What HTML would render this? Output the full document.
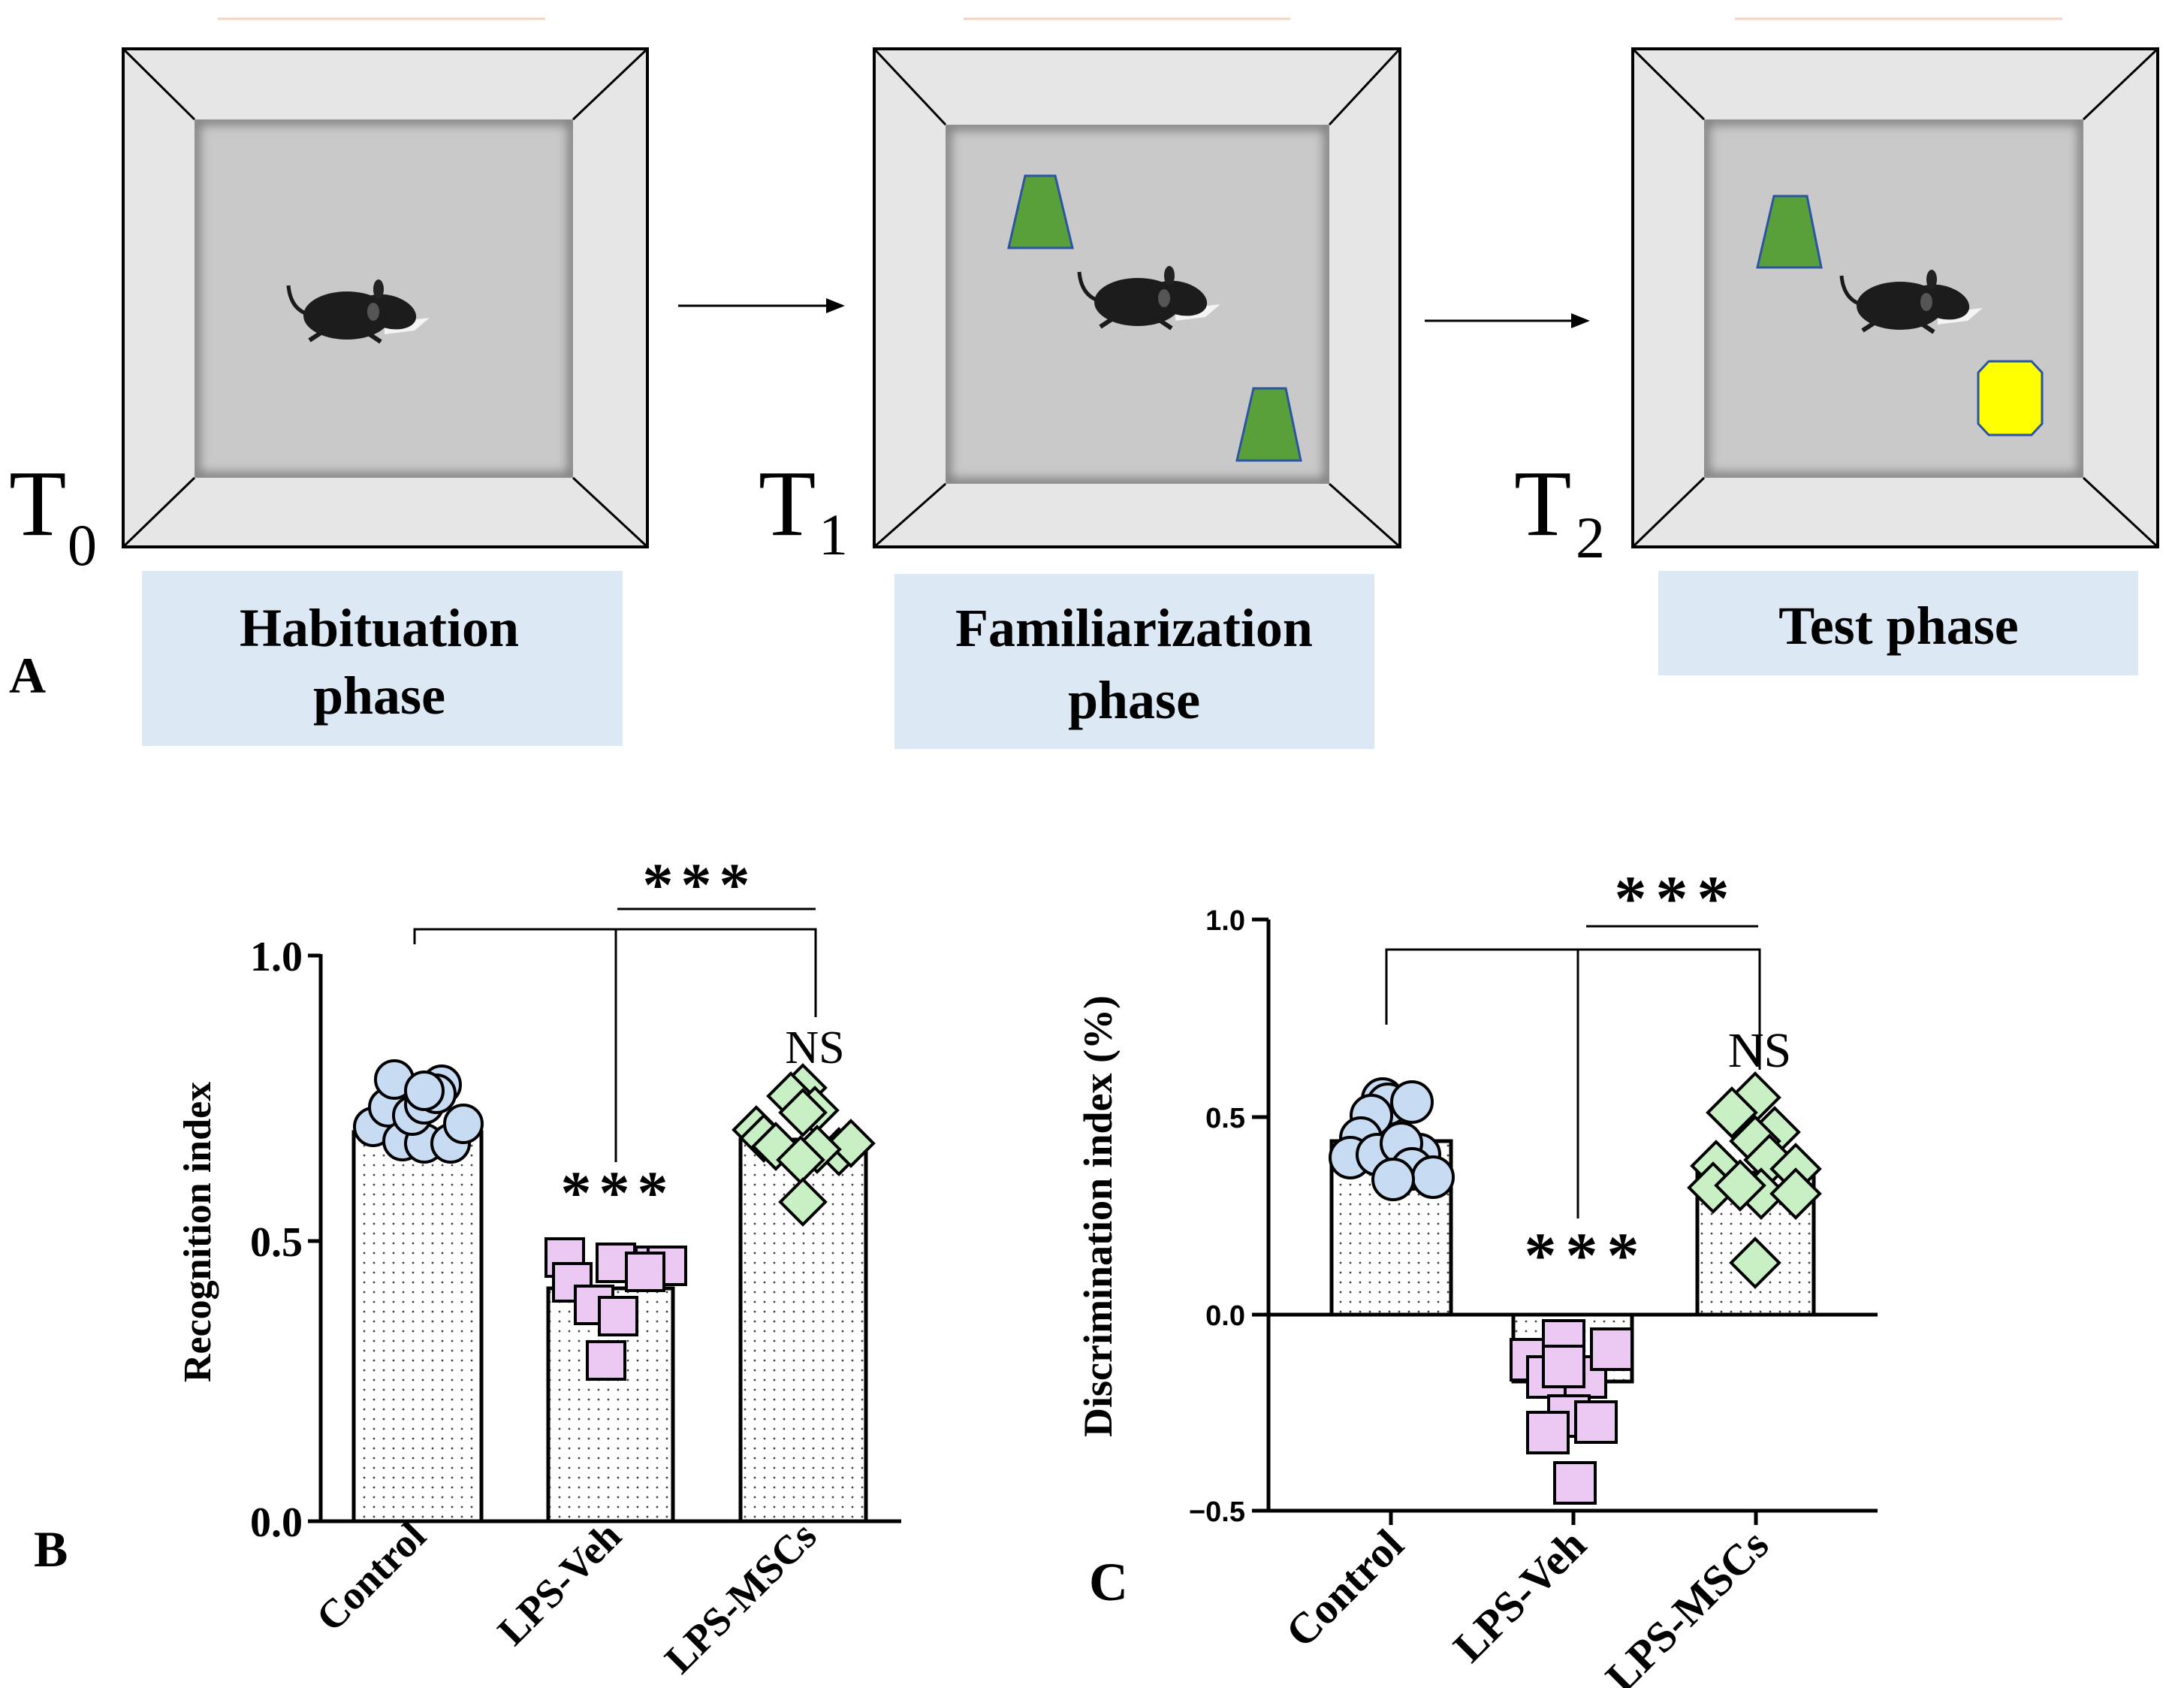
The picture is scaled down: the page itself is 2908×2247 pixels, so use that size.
<!DOCTYPE html>
<html><head><meta charset="utf-8"><style>
html,body{margin:0;padding:0;background:#fff;}
svg{display:block;}
</style></head><body>
<svg width="2908" height="2247" viewBox="0 0 2908 2247" xmlns="http://www.w3.org/2000/svg">
<defs>
<pattern id="dots" width="13" height="13" patternUnits="userSpaceOnUse">
<rect width="13" height="13" fill="#fff"/><circle cx="4" cy="4" r="1.4" fill="#444"/>
</pattern>
<filter id="blur" x="-5%" y="-5%" width="110%" height="110%"><feGaussianBlur stdDeviation="7"/></filter>
<clipPath id="c1"><rect x="259" y="159" width="504" height="477"/></clipPath>
<clipPath id="c2"><rect x="1259" y="166" width="511" height="478"/></clipPath>
<clipPath id="c3"><rect x="2269" y="159" width="505" height="477"/></clipPath>
<g id="mouse">
<path d="M-55,5 Q-85,0 -88,-35" stroke="#1a1a1a" stroke-width="5" fill="none"/>
<path d="M-40,25 L-60,38" stroke="#1a1a1a" stroke-width="6"/>
<path d="M20,30 L35,40" stroke="#1a1a1a" stroke-width="6"/>
<path d="M40,15 L100,8 L80,25 L40,30Z" fill="#f4f4f4"/>
<ellipse cx="-10" cy="5" rx="58" ry="32" fill="#1c1c1c"/>
<ellipse cx="45" cy="0" rx="38" ry="22" fill="#1c1c1c" transform="rotate(15 45 0)"/>
<ellipse cx="32" cy="-30" rx="7" ry="13" fill="#222"/>
<ellipse cx="25" cy="0" rx="8" ry="12" fill="#555"/>
</g>
</defs>

<line x1="290" y1="25" x2="726" y2="25" stroke="#f5d2c0" stroke-width="3"/>
<line x1="1283" y1="25" x2="1718" y2="25" stroke="#f5d2c0" stroke-width="3"/>
<line x1="2310" y1="25" x2="2746" y2="25" stroke="#f5d2c0" stroke-width="3"/>

<!-- Box 1 -->
<rect x="164" y="65" width="698" height="663" fill="#e7e6e7" stroke="#000" stroke-width="4"/>
<rect x="259" y="159" width="504" height="477" fill="#c9c9ca"/>
<rect x="259" y="159" width="504" height="477" fill="none" stroke="#7a7a7a" stroke-width="14" filter="url(#blur)" clip-path="url(#c1)"/>
<g stroke="#000" stroke-width="3"><line x1="164" y1="65" x2="259" y2="159"/><line x1="862" y1="65" x2="763" y2="159"/><line x1="164" y1="728" x2="259" y2="636"/><line x1="862" y1="728" x2="763" y2="636"/></g>
<use href="#mouse" transform="translate(472,415)"/>

<!-- Box 2 -->
<rect x="1164" y="65" width="700" height="663" fill="#e7e6e7" stroke="#000" stroke-width="4"/>
<rect x="1259" y="166" width="511" height="478" fill="#c9c9ca"/>
<rect x="1259" y="166" width="511" height="478" fill="none" stroke="#7a7a7a" stroke-width="14" filter="url(#blur)" clip-path="url(#c2)"/>
<g stroke="#000" stroke-width="3"><line x1="1164" y1="65" x2="1259" y2="166"/><line x1="1864" y1="65" x2="1770" y2="166"/><line x1="1164" y1="728" x2="1259" y2="644"/><line x1="1864" y1="728" x2="1770" y2="644"/></g>
<polygon points="1365,234 1405,234 1428,330 1343,330" fill="#5aa03a" stroke="#2a55a0" stroke-width="3"/>
<polygon points="1669,517 1712,517 1732,613 1647,613" fill="#5aa03a" stroke="#2a55a0" stroke-width="3"/>
<use href="#mouse" transform="translate(1525,397)"/>

<!-- Box 3 -->
<rect x="2174" y="65" width="699" height="663" fill="#e7e6e7" stroke="#000" stroke-width="4"/>
<rect x="2269" y="159" width="505" height="477" fill="#c9c9ca"/>
<rect x="2269" y="159" width="505" height="477" fill="none" stroke="#7a7a7a" stroke-width="14" filter="url(#blur)" clip-path="url(#c3)"/>
<g stroke="#000" stroke-width="3"><line x1="2174" y1="65" x2="2269" y2="159"/><line x1="2873" y1="65" x2="2774" y2="159"/><line x1="2174" y1="728" x2="2269" y2="636"/><line x1="2873" y1="728" x2="2774" y2="636"/></g>
<polygon points="2362,261 2406,261 2425,356 2340,356" fill="#5aa03a" stroke="#2a55a0" stroke-width="3"/>
<polygon points="2648,481 2705,481 2719,496 2719,564 2705,579 2648,579 2634,564 2634,496" fill="#ffff00" stroke="#2a55a0" stroke-width="3"/>
<use href="#mouse" transform="translate(2540,402)"/>

<line x1="903" y1="407" x2="1110" y2="407" stroke="#000" stroke-width="3"/>
<polygon points="1125,407 1100,397 1100,417" fill="#000"/>
<line x1="1897" y1="427" x2="2102" y2="427" stroke="#000" stroke-width="3"/>
<polygon points="2117,427 2092,417 2092,437" fill="#000"/>

<g font-family="Liberation Serif, serif" fill="#000">
<text x="12" y="712" font-size="125">T</text><text x="90" y="752" font-size="78">0</text>
<text x="1010" y="712" font-size="125">T</text><text x="1090" y="738" font-size="78">1</text>
<text x="2016" y="712" font-size="125">T</text><text x="2098" y="742" font-size="78">2</text>
<text x="12" y="922" font-size="68" font-weight="bold">A</text>
</g>

<rect x="189" y="760" width="640" height="233" fill="#dde8f5"/>
<rect x="1191" y="764" width="639" height="233" fill="#dde8f5"/>
<rect x="2208" y="760" width="639" height="139" fill="#dde8f5"/>
<g font-family="Liberation Serif, serif" font-size="72" text-anchor="middle" fill="#000" font-weight="bold">
<text x="505" y="860">Habituation</text><text x="505" y="950">phase</text>
<text x="1510" y="860">Familiarization</text><text x="1510" y="956">phase</text>
<text x="2528" y="857">Test phase</text>
</g>

<!-- Chart B -->
<g>
<rect x="471" y="1507" width="170" height="518" fill="url(#dots)" stroke="#000" stroke-width="5"/>
<rect x="730" y="1715" width="166" height="310" fill="url(#dots)" stroke="#000" stroke-width="5"/>
<rect x="986" y="1517" width="167" height="508" fill="url(#dots)" stroke="#000" stroke-width="5"/>
<line x1="427" y1="1270" x2="427" y2="2027" stroke="#000" stroke-width="5"/>
<line x1="425" y1="2025" x2="1200" y2="2025" stroke="#000" stroke-width="5"/>
<g stroke="#000" stroke-width="5"><line x1="410" y1="1272" x2="427" y2="1272"/><line x1="410" y1="1652" x2="427" y2="1652"/><line x1="410" y1="2025" x2="427" y2="2025"/></g>
<g font-family="Liberation Serif, serif" font-weight="bold" font-size="56" text-anchor="end">
<text x="403" y="1292">1.0</text><text x="403" y="1672">0.5</text><text x="403" y="2045">0.0</text>
</g>
<text transform="translate(280,1640) rotate(-90)" font-family="Liberation Serif, serif" font-weight="bold" font-size="52" text-anchor="middle">Recognition index</text>
<g stroke="#000" stroke-width="3" fill="none">
<polyline points="552,1257 552,1237 1086,1237 1086,1354"/>
<line x1="820" y1="1237" x2="820" y2="1547"/>
<line x1="822" y1="1210" x2="1086" y2="1210"/>
</g>
<g font-family="Liberation Serif, serif" font-size="82" text-anchor="middle" font-weight="bold">
<text x="932" y="1205" letter-spacing="10">***</text><text x="823" y="1615" letter-spacing="10">***</text>
</g>
<text x="1085" y="1415" font-family="Liberation Serif, serif" font-size="62" text-anchor="middle">NS</text>
<g fill="#c7dbf3" stroke="#000" stroke-width="4">
<circle cx="497" cy="1500" r="25"/><circle cx="517" cy="1474" r="25"/><circle cx="525" cy="1437" r="25"/><circle cx="536" cy="1519" r="25"/><circle cx="565" cy="1522" r="25"/><circle cx="549" cy="1485" r="25"/><circle cx="565" cy="1470" r="25"/><circle cx="588" cy="1444" r="25"/><circle cx="581" cy="1456" r="25"/><circle cx="600" cy="1522" r="25"/><circle cx="617" cy="1496" r="25"/><circle cx="565" cy="1452" r="25"/>
</g>
<g fill="#ecc9f3" stroke="#000" stroke-width="4">
<rect x="727" y="1649" width="50" height="50"/><rect x="737" y="1682" width="50" height="50"/><rect x="795" y="1656" width="50" height="50"/><rect x="847" y="1660" width="50" height="50"/><rect x="863" y="1660" width="50" height="50"/><rect x="834" y="1668" width="50" height="50"/><rect x="766" y="1712" width="50" height="50"/><rect x="798" y="1727" width="50" height="50"/><rect x="782" y="1786" width="50" height="50"/>
</g>
<g fill="#c9f0c4" stroke="#000" stroke-width="4">
<polygon points="1069,1418 1099,1448 1069,1478 1039,1448"/><polygon points="1053,1429 1083,1459 1053,1489 1023,1459"/><polygon points="1085,1448 1115,1478 1085,1508 1055,1478"/><polygon points="1069,1451 1099,1481 1069,1511 1039,1481"/><polygon points="1007,1474 1037,1504 1007,1534 977,1504"/><polygon points="1017,1485 1047,1515 1017,1545 987,1515"/><polygon points="1033,1496 1063,1526 1033,1556 1003,1526"/><polygon points="1117,1503 1147,1533 1117,1563 1087,1533"/><polygon points="1133,1492 1163,1522 1133,1552 1103,1522"/><polygon points="1088,1500 1118,1530 1088,1560 1058,1530"/><polygon points="1066,1514 1096,1544 1066,1574 1036,1544"/><polygon points="1069,1570 1099,1600 1069,1630 1039,1600"/>
</g>
<g font-family="Liberation Serif, serif" font-weight="bold" font-size="54" text-anchor="end">
<text transform="translate(570,2048) rotate(-45)">Control</text>
<text transform="translate(830,2048) rotate(-45)">LPS-Veh</text>
<text transform="translate(1090,2048) rotate(-45)">LPS-MSCs</text>
</g>
<text x="45" y="2085" font-family="Liberation Serif, serif" font-weight="bold" font-size="68">B</text>
</g>

<!-- Chart C -->
<g>
<rect x="1773" y="1519" width="159" height="231" fill="url(#dots)" stroke="#000" stroke-width="5"/>
<rect x="2015" y="1750" width="158" height="89" fill="url(#dots)" stroke="#000" stroke-width="5"/>
<rect x="2260" y="1561" width="155" height="189" fill="url(#dots)" stroke="#000" stroke-width="5"/>
<line x1="1689" y1="1224" x2="1689" y2="2013" stroke="#000" stroke-width="5"/>
<line x1="1687" y1="2011" x2="2500" y2="2011" stroke="#000" stroke-width="5"/>
<line x1="1687" y1="1750" x2="2500" y2="1750" stroke="#000" stroke-width="5"/>
<g stroke="#000" stroke-width="5">
<line x1="1667" y1="1224" x2="1689" y2="1224"/><line x1="1667" y1="1487" x2="1689" y2="1487"/><line x1="1667" y1="1750" x2="1689" y2="1750"/><line x1="1667" y1="2011" x2="1689" y2="2011"/>
<line x1="1852" y1="2011" x2="1852" y2="2030"/><line x1="2095" y1="2011" x2="2095" y2="2030"/><line x1="2338" y1="2011" x2="2338" y2="2030"/>
</g>
<g font-family="Liberation Sans, sans-serif" font-weight="bold" font-size="38" text-anchor="end">
<text x="1658" y="1238">1.0</text><text x="1658" y="1501">0.5</text><text x="1658" y="1764">0.0</text><text x="1658" y="2025">−0.5</text>
</g>
<text transform="translate(1480,1619) rotate(-90)" font-family="Liberation Serif, serif" font-weight="bold" font-size="54" text-anchor="middle">Discrimination index (%)</text>
<g stroke="#000" stroke-width="3" fill="none">
<polyline points="1846,1364 1846,1264 2343,1264 2343,1424"/>
<line x1="2101" y1="1264" x2="2101" y2="1622"/>
<line x1="2112" y1="1233" x2="2341" y2="1233"/>
</g>
<g font-family="Liberation Serif, serif" font-size="86" text-anchor="middle" font-weight="bold">
<text x="2232" y="1225" letter-spacing="12">***</text><text x="2112" y="1700" letter-spacing="12">***</text>
</g>
<text x="2343" y="1420" font-family="Liberation Serif, serif" font-size="66" text-anchor="middle">NS</text>
<g fill="#c7dbf3" stroke="#000" stroke-width="4">
<circle cx="1841" cy="1463" r="27"/><circle cx="1848" cy="1470" r="27"/><circle cx="1826" cy="1485" r="27"/><circle cx="1812" cy="1515" r="27"/><circle cx="1798" cy="1541" r="27"/><circle cx="1890" cy="1537" r="27"/><circle cx="1834" cy="1537" r="27"/><circle cx="1866" cy="1522" r="27"/><circle cx="1880" cy="1556" r="27"/><circle cx="1908" cy="1567" r="27"/><circle cx="1855" cy="1570" r="27"/><circle cx="1880" cy="1467" r="27"/>
</g>
<g fill="#ecc9f3" stroke="#000" stroke-width="4">
<rect x="2012" y="1783" width="54" height="54"/><rect x="2055" y="1758" width="54" height="54"/><rect x="2034" y="1806" width="54" height="54"/><rect x="2084" y="1806" width="54" height="54"/><rect x="2119" y="1769" width="54" height="54"/><rect x="2055" y="1792" width="54" height="54"/><rect x="2062" y="1858" width="54" height="54"/><rect x="2098" y="1866" width="54" height="54"/><rect x="2034" y="1880" width="54" height="54"/><rect x="2070" y="1947" width="54" height="54"/>
</g>
<g fill="#c9f0c4" stroke="#000" stroke-width="4">
<polygon points="2337,1429 2369,1461 2337,1493 2305,1461"/><polygon points="2306,1449 2338,1481 2306,1513 2274,1481"/><polygon points="2363,1475 2395,1507 2363,1539 2331,1507"/><polygon points="2337,1487 2369,1519 2337,1551 2305,1519"/><polygon points="2285,1520 2317,1552 2285,1584 2253,1552"/><polygon points="2281,1549 2313,1581 2281,1613 2249,1581"/><polygon points="2356,1512 2388,1544 2356,1576 2324,1544"/><polygon points="2391,1524 2423,1556 2391,1588 2359,1556"/><polygon points="2345,1557 2377,1589 2345,1621 2313,1589"/><polygon points="2317,1546 2349,1578 2317,1610 2285,1578"/><polygon points="2391,1557 2423,1589 2391,1621 2359,1589"/><polygon points="2337,1649 2369,1681 2337,1713 2305,1681"/>
</g>
<g font-family="Liberation Serif, serif" font-weight="bold" font-size="58" text-anchor="end">
<text transform="translate(1872,2060) rotate(-45)">Control</text>
<text transform="translate(2115,2060) rotate(-45)">LPS-Veh</text>
<text transform="translate(2358,2060) rotate(-45)">LPS-MSCs</text>
</g>
<text x="1450" y="2130" font-family="Liberation Serif, serif" font-weight="bold" font-size="72">C</text>
</g>
</svg>
</body></html>
